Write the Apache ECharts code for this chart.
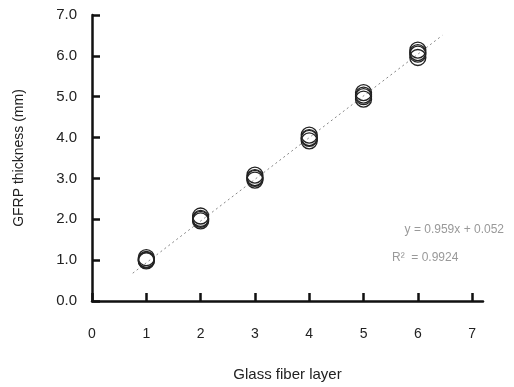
<!DOCTYPE html>
<html>
<head>
<meta charset="utf-8">
<script src="https://cdn.jsdelivr.net/npm/echarts@6/dist/echarts.min.js"></script>
<style>
    html, body { margin: 0; padding: 0; background: #fff; }
    #chart { width: 514px; height: 387px; }
</style>
</head>
<body>
<div id="chart"></div>
<script>
    // measured thicknesses, several specimens per layer count
    var layers = [1, 2, 3, 4, 5, 6];
    var thickness = [
        [0.98, 1.02, 1.06, 1.0],
        [1.96, 2.02, 2.08, 2.0],
        [2.96, 3.02, 3.08, 3.0],
        [3.92, 3.98, 4.06, 4.0],
        [4.94, 5.0, 5.1, 5.04],
        [5.96, 6.04, 6.14, 6.08]
    ];
    // ends of the dotted regression line
    var trendX = [0.75, 6.45];
    var trendY = [0.68, 6.5];
    var xTicks = [0, 1, 2, 3, 4, 5, 6, 7];
    var yTicks = [0, 1, 2, 3, 4, 5, 6, 7];
    var eqText = "y = 0.959x + 0.052";
    var r2Text = "R\u00b2  = 0.9924";

    var points = [];
    for (var i = 0; i < layers.length; i++) {
        for (var j = 0; j < thickness[i].length; j++) {
            points.push([layers[i], thickness[i][j]]);
        }
    }
    var trend = trendX.map(function (x, k) { return [x, trendY[k]]; });

    var font = "Liberation Sans, Arial, sans-serif";
    var chart = echarts.init(document.getElementById("chart"));
    chart.setOption({
        animation: false,
        backgroundColor: "#fff",
        grid: { left: 92, top: 15, right: 31, bottom: 82 },
        xAxis: {
            type: "value",
            min: 0,
            max: 7.2,
            interval: 1,
            name: "Glass fiber layer",
            nameLocation: "middle",
            nameGap: 66,
            nameTextStyle: { fontFamily: font, fontSize: 15, color: "#222" },
            splitLine: { show: false },
            axisLine: { lineStyle: { color: "#111", width: 2.5 } },
            axisTick: { inside: true, length: 8, lineStyle: { color: "#111", width: 2.5 } },
            axisLabel: {
                margin: 26,
                fontFamily: font,
                fontSize: 14,
                color: "#222",
                showMaxLabel: false,
                formatter: function (v) { return xTicks.indexOf(v) >= 0 ? String(v) : ""; }
            }
        },
        yAxis: {
            type: "value",
            min: 0,
            max: 7,
            interval: 1,
            name: "GFRP thickness (mm)",
            nameLocation: "middle",
            nameGap: 66,
            nameTextStyle: { fontFamily: font, fontSize: 14, color: "#222" },
            splitLine: { show: false },
            axisLine: { lineStyle: { color: "#111", width: 2.5 } },
            axisTick: { inside: true, length: 8, lineStyle: { color: "#111", width: 2.5 } },
            axisLabel: {
                margin: 15,
                fontFamily: font,
                fontSize: 15,
                color: "#222",
                formatter: function (v) { return yTicks.indexOf(v) >= 0 ? v.toFixed(1) : ""; }
            }
        },
        series: [
            {
                type: "line",
                data: trend,
                symbol: "none",
                lineStyle: { color: "#888", width: 1, type: [2, 3] },
                z: 1
            },
            {
                type: "scatter",
                data: points,
                symbol: "circle",
                symbolSize: 16,
                itemStyle: { color: "rgba(0,0,0,0)", opacity: 1, borderColor: "#222", borderWidth: 1.3 },
                z: 2
            }
        ],
        graphic: [
            {
                type: "text",
                right: 10,
                top: 224,
                style: { text: eqText, font: "12px " + font, fill: "#999" }
            },
            {
                type: "text",
                left: 392,
                top: 252,
                style: { text: r2Text, font: "12px " + font, fill: "#999" }
            }
        ]
    });
</script>
</body>
</html>
